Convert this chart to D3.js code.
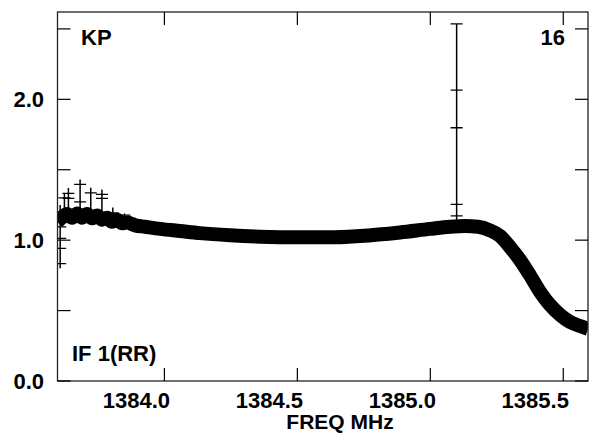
<!DOCTYPE html>
<html><head><meta charset="utf-8">
<script src="https://cdn.jsdelivr.net/npm/d3@7"></script>
<style>
body{margin:0;background:#fff;}
svg text{font-family:"Liberation Sans",Arial,sans-serif;font-weight:bold;fill:#000;}
</style></head>
<body><svg id="c" width="591" height="434"></svg>
<script>
// Main spectrum (channel frequency MHz, amplitude)
const freqs = [1383.597,1383.615,1383.634,1383.653,1383.672,1383.691,1383.709,1383.728,1383.747,1383.766,1383.785,1383.803,1383.822,1383.841,1383.860,1383.890,1383.927,1383.984,1384.059,1384.134,1384.247,1384.360,1384.500,1384.623,1384.736,1384.886,1384.999,1385.074,1385.131,1385.179,1385.224,1385.262,1385.300,1385.337,1385.375,1385.412,1385.450,1385.488,1385.525,1385.563,1385.593];
const amps  = [1.13,1.16,1.185,1.16,1.19,1.16,1.185,1.155,1.175,1.145,1.16,1.13,1.145,1.12,1.125,1.105,1.095,1.08,1.065,1.05,1.035,1.025,1.02,1.02,1.03,1.055,1.08,1.095,1.10,1.095,1.07,1.03,0.95,0.86,0.75,0.635,0.54,0.47,0.42,0.39,0.37];
// Error-bar segments (vertical)
const barFreq   = [1383.608,1383.624,1383.639,1383.683,1383.723,1383.765,1383.806,1383.850,1383.890,1383.931,1385.099];
const barTop    = [1.249,1.33,1.37,1.431,1.372,1.36,1.232,1.19,1.16,1.14,2.535];
const barBottom = [0.80,1.15,1.16,1.18,1.17,1.15,1.13,1.12,1.10,1.09,1.10];
// Cross arms (horizontal)
const armFreq = [1383.608,1383.608,1383.608,1383.608,1383.608,1383.624,1383.639,1383.639,1383.683,1383.683,1383.723,1383.723,1383.765,1383.765,1383.806,1383.850,1383.890,1385.099,1385.099,1385.099,1385.099,1385.099];
const armVal  = [1.201,1.095,1.012,0.941,0.834,1.30,1.332,1.296,1.396,1.272,1.336,1.206,1.325,1.296,1.194,1.178,1.145,2.535,2.066,1.798,1.254,1.173];
// Axes
const xTicks = [1384.0,1384.5,1385.0,1385.5];
const yTicks = [0,0.5,1.0,1.5,2.0,2.5];
const yLabels = [0,1.0,2.0];
const xDomain = [1383.598,1385.593];
const yDomain = [0,2.62];

const svg = d3.select("#c");
const L=57.5, R=588, T=12, B=381;
const x = d3.scaleLinear().domain(xDomain).range([L,R]);
const y = d3.scaleLinear().domain(yDomain).range([B,T]);

svg.append("defs").append("clipPath").attr("id","clip")
  .append("rect").attr("x",L).attr("y",T).attr("width",R-L).attr("height",B-T);

const g = svg.append("g").attr("clip-path","url(#clip)");
const line = d3.line().x((d,i)=>x(freqs[i])).y(d=>y(d)).curve(d3.curveMonotoneX);
g.append("path").attr("d",line(amps)).attr("fill","none").attr("stroke","#000")
  .attr("stroke-width",14).attr("stroke-linejoin","round");

g.selectAll("line.bar").data(barFreq).enter().append("line")
  .attr("x1",d=>x(d)).attr("x2",d=>x(d))
  .attr("y1",(d,i)=>y(barTop[i])).attr("y2",(d,i)=>y(barBottom[i]))
  .attr("stroke","#000").attr("stroke-width",1.5);
g.selectAll("line.arm").data(armFreq).enter().append("line")
  .attr("x1",d=>x(d)-6).attr("x2",d=>x(d)+6)
  .attr("y1",(d,i)=>y(armVal[i])).attr("y2",(d,i)=>y(armVal[i]))
  .attr("stroke","#000").attr("stroke-width",1.3);

// frame
svg.append("rect").attr("x",L).attr("y",T).attr("width",R-L).attr("height",B-T)
  .attr("fill","none").attr("stroke","#222").attr("stroke-width",1.3);

// ticks
const tl=13;
xTicks.forEach(t=>{
  svg.append("line").attr("x1",x(t)).attr("x2",x(t)).attr("y1",B).attr("y2",B-tl).attr("stroke","#000").attr("stroke-width",1.2);
  svg.append("line").attr("x1",x(t)).attr("x2",x(t)).attr("y1",T).attr("y2",T+tl).attr("stroke","#000").attr("stroke-width",1.2);
  svg.append("text").attr("x",x(t)-28).attr("y",408).attr("text-anchor","middle").attr("font-size",22).text(d3.format(".1f")(t));
});
yTicks.forEach(t=>{
  svg.append("line").attr("x1",L).attr("x2",L+tl).attr("y1",y(t)).attr("y2",y(t)).attr("stroke","#000").attr("stroke-width",1.2);
  svg.append("line").attr("x1",R).attr("x2",R-tl).attr("y1",y(t)).attr("y2",y(t)).attr("stroke","#000").attr("stroke-width",1.2);
});
yLabels.forEach(t=>{
  svg.append("text").attr("x",44).attr("y",y(t)+8).attr("text-anchor","end").attr("font-size",22).text(d3.format(".1f")(t));
});

svg.append("text").attr("x",340).attr("y",429).attr("text-anchor","middle").attr("font-size",21).text("FREQ MHz");
svg.append("text").attr("x",81).attr("y",45).attr("font-size",22).text("KP");
svg.append("text").attr("x",565).attr("y",45).attr("text-anchor","end").attr("font-size",22).text("16");
svg.append("text").attr("x",72).attr("y",361).attr("font-size",22).text("IF 1(RR)");
</script></body></html>
